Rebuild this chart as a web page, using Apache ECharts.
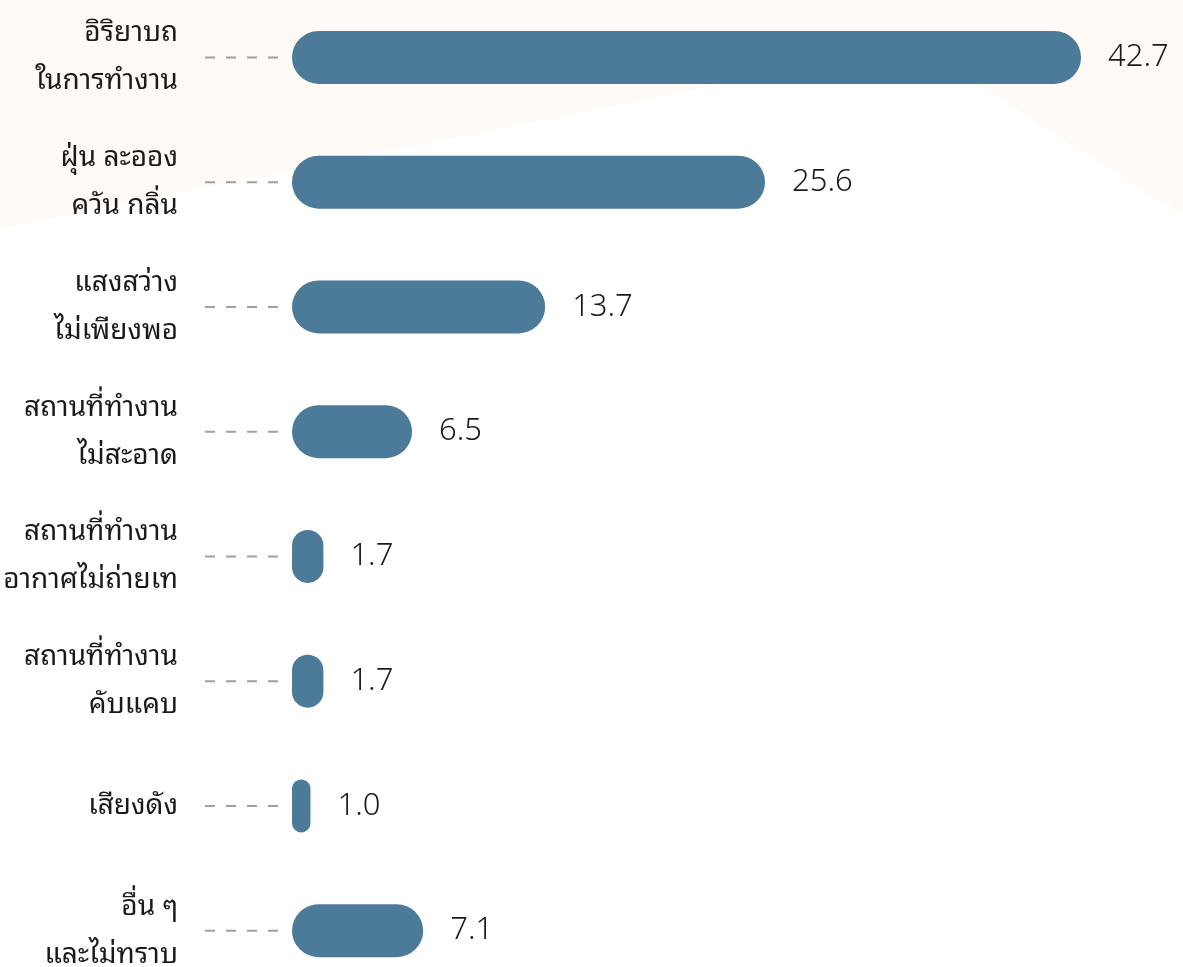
<!DOCTYPE html>
<html lang="th">
<head>
    <meta charset="UTF-8">
    <title>chart</title>
    <script src="https://cdn.jsdelivr.net/npm/echarts@6/dist/echarts.min.js"></script>
</head>
<style type="text/css">
    html,body,#chart{
        width: 100%;
        height: 100%;
        margin: 0;
        padding: 0;
        background: #fff;
    }
</style>
<body>
<div id="chart"></div>
<script>
    var categories = [
        'อิริยาบถ\nในการทำงาน',
        'ฝุ่น ละออง\nควัน กลิ่น',
        'แสงสว่าง\nไม่เพียงพอ',
        'สถานที่ทำงาน\nไม่สะอาด',
        'สถานที่ทำงาน\nอากาศไม่ถ่ายเท',
        'สถานที่ทำงาน\nคับแคบ',
        'เสียงดัง',
        'อื่น ๆ\nและไม่ทราบ'
    ];
    var values = [42.7, 25.6, 13.7, 6.5, 1.7, 1.7, 1.0, 7.1];

    var thaiFont = '"Noto Sans Thai Looped", "Noto Sans Thai", "Noto Sans", sans-serif';
    var myChart = echarts.init(document.getElementById('chart'));
    var options = {
        animation: false,
        graphic: [{
            type: 'polygon',
            z: -10,
            silent: true,
            shape: {
                points: [[0, 0], [1183, 0], [1183, 215], [917, 45], [0, 228]]
            },
            style: {
                fill: '#fffaf6'
            }
        }],
        grid: {
            left: 292,
            width: 789,
            top: -5,
            height: 998,
            outerBoundsMode: 'none'
        },
        xAxis: {
            type: 'value',
            min: 0,
            max: 42.7,
            show: false
        },
        yAxis: {
            type: 'category',
            inverse: true,
            data: categories,
            axisLine: {show: false},
            axisTick: {show: false},
            axisLabel: {
                margin: 114,
                color: '#1a1a1a',
                fontSize: 28,
                lineHeight: 48,
                fontFamily: thaiFont,
                align: 'right'
            }
        },
        series: [{
            // dashed leader between label and bar
            type: 'custom',
            silent: true,
            clip: false,
            data: values.map(function (v, i) { return [0, i]; }),
            renderItem: function (params, api) {
                var p = api.coord([0, api.value(1)]);
                return {
                    type: 'line',
                    shape: {x1: p[0] - 14, y1: p[1], x2: p[0] - 88, y2: p[1]},
                    style: {stroke: '#a0a0a0', lineWidth: 2, lineDash: [10, 11]}
                };
            }
        }, {
            type: 'bar',
            data: values,
            barWidth: 53,
            itemStyle: {
                color: '#4c7a99',
                borderRadius: 26.5
            },
            label: {
                show: true,
                position: 'right',
                distance: 27,
                color: '#1a1a1a',
                fontSize: 31,
                fontFamily: '"Noto Sans", sans-serif',
                fontWeight: 300,
                formatter: function (p) {
                    return p.value.toFixed(1);
                }
            }
        }]
    };
    myChart.setOption(options);
</script>
</body>
</html>
